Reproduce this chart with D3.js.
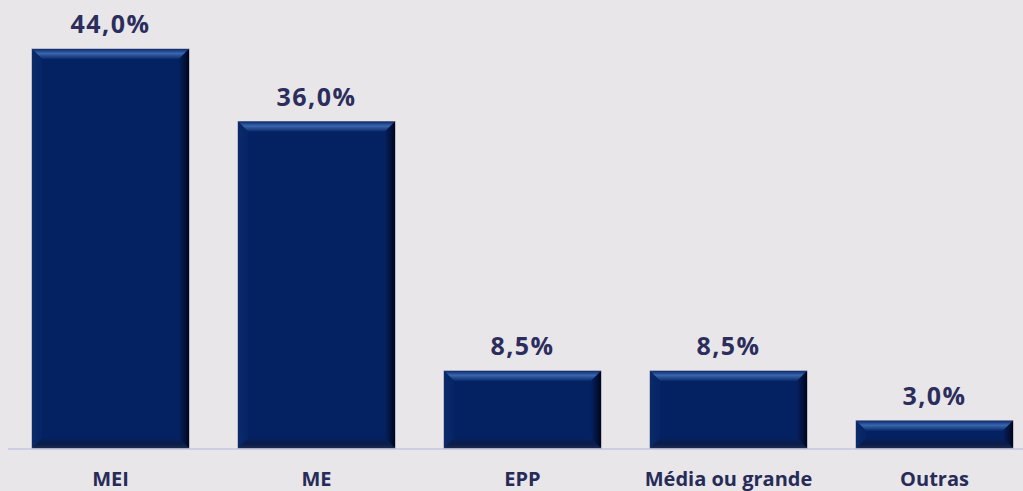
<!DOCTYPE html>
<html>
<head>
<meta charset="utf-8">
<script src="https://cdn.jsdelivr.net/npm/d3@7"></script>
<style>
  html, body { margin: 0; padding: 0; background: #e8e6e9; }
  svg { display: block; }
</style>
</head>
<body>
<div id="chart"></div>
<script>
const w = 1023;
const h = 491;

// data
const categories = ["MEI", "ME", "EPP", "Média ou grande", "Outras"];
const values = [44.0, 36.0, 8.5, 8.5, 3.0];
const valueLabels = ["44,0%", "36,0%", "8,5%", "8,5%", "3,0%"];

const baseY = 448;
const bev = 10;

let svg = d3.select("div#chart").append("svg")
    .attr("width", w).attr("height", h)
    .style("background-color", "#e8e6e9");

let x = d3.scaleBand().domain(categories).range([7.5, 1037.5]).paddingInner(0.238).paddingOuter(0.119);
let y = d3.scaleLinear().domain([0, 44]).range([baseY, 49]);

let defs = svg.append("defs");
const grad = (id, x1, y1, x2, y2, stops) => {
    let g = defs.append("linearGradient").attr("id", id)
        .attr("x1", x1).attr("y1", y1).attr("x2", x2).attr("y2", y2);
    stops.forEach(s => g.append("stop").attr("offset", s[0]).attr("stop-color", s[1]));
};
grad("gTop", 0, 0, 0, 1, [[0, "#0d2c6e"], [0.45, "#3a66ad"], [1, "#0a2a6a"]]);
grad("gBot", 0, 0, 0, 1, [[0, "#05215e"], [0.6, "#0a1c48"], [1, "#1c2a50"]]);
grad("gLeft", 0, 0, 1, 0, [[0, "#0b2a68"], [1, "#062466"]]);
grad("gRight", 0, 0, 1, 0, [[0, "#05215f"], [0.6, "#02113a"], [1, "#000514"]]);

// axis line
svg.append("line")
    .attr("x1", 8).attr("x2", w).attr("y1", baseY + 1).attr("y2", baseY + 1)
    .attr("stroke", "#cdcde4").attr("stroke-width", 2);

let bars = svg.selectAll("g.bar")
    .data(categories.map((c, i) => ({ c: c, v: values[i], lbl: valueLabels[i] })))
    .join("g").attr("class", "bar");

bars.each(function(d) {
    let g = d3.select(this);
    let x0 = x(d.c), x1 = x0 + x.bandwidth();
    let y0 = y(d.v), y1 = baseY;
    let b = Math.min(bev, (y1 - y0) / 2.6);
    g.append("rect").attr("x", x0).attr("y", y0).attr("width", x1 - x0).attr("height", y1 - y0)
        .attr("fill", "#042262").attr("stroke", "#8d91ab").attr("stroke-width", 1);
    const poly = (pts, fill) => g.append("polygon")
        .attr("points", pts.map(p => p.join(",")).join(" ")).attr("fill", fill);
    poly([[x0, y0], [x1, y0], [x1 - b, y0 + b], [x0 + b, y0 + b]], "url(#gTop)");
    poly([[x0, y1], [x1, y1], [x1 - b, y1 - b], [x0 + b, y1 - b]], "url(#gBot)");
    poly([[x0, y0], [x0 + b, y0 + b], [x0 + b, y1 - b], [x0, y1]], "url(#gLeft)");
    poly([[x1, y0], [x1 - b, y0 + b], [x1 - b, y1 - b], [x1, y1]], "url(#gRight)");
    g.append("text")
        .attr("x", (x0 + x1) / 2).attr("y", y0 - 16)
        .attr("text-anchor", "middle")
        .style("font-family", "'Open Sans', sans-serif").style("font-weight", "bold")
        .style("font-size", "25px").style("letter-spacing", "1.5px").style("fill", "#2b2d5c")
        .text(d.lbl);
});

// category labels
svg.selectAll("text.cat")
    .data(categories)
    .join("text").attr("class", "cat")
    .attr("x", d => x(d) + x.bandwidth() / 2).attr("y", 486)
    .attr("text-anchor", "middle")
    .style("font-family", "'Open Sans', sans-serif").style("font-weight", "bold")
    .style("font-size", "20px").style("fill", "#272b58")
    .text(d => d);
</script>
</body>
</html>
